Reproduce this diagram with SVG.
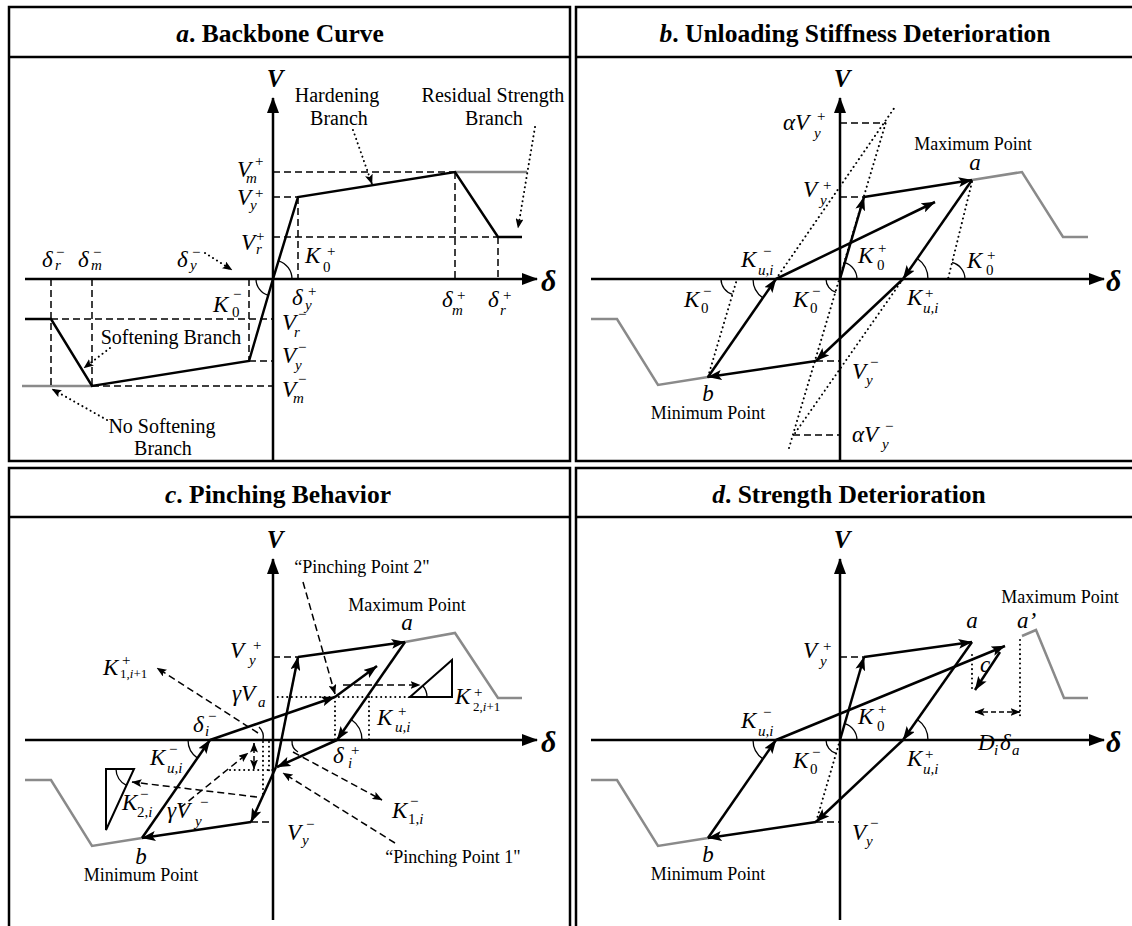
<svg xmlns="http://www.w3.org/2000/svg" width="1132" height="926" viewBox="0 0 1132 926">
<style>
.fr{fill:none;stroke:#000;stroke-width:2.5}
.ax{stroke:#000;stroke-width:2.5;fill:none;marker-end:url(#ah)}
.cv{stroke:#000;stroke-width:2.5;fill:none}
.ar{stroke:#000;stroke-width:2.5;fill:none;marker-end:url(#ar)}
.gr{stroke:#8a8a8a;stroke-width:2.5;fill:none}
.da{stroke:#000;stroke-width:1.5;stroke-dasharray:7 4;fill:none}
.dar{stroke:#000;stroke-width:1.5;stroke-dasharray:7 4;fill:none;marker-end:url(#sa)}
.dbl{stroke:#000;stroke-width:1.5;stroke-dasharray:5 3;fill:none;marker-end:url(#sa);marker-start:url(#sb)}
.do{stroke:#000;stroke-width:2;stroke-dasharray:0.1 4.6;stroke-linecap:round;fill:none}
.dor{stroke:#000;stroke-width:2;stroke-dasharray:0.1 4.6;stroke-linecap:round;fill:none;marker-end:url(#sa)}
.th{stroke:#000;stroke-width:1.3;fill:none}
.tri{stroke:#000;stroke-width:2;fill:none}
text{font-family:"Liberation Serif","Times New Roman",serif}
.ttl{font-weight:bold;font-size:25.5px;text-anchor:middle}
.vl{font-weight:bold;font-style:italic;font-size:25px;text-anchor:middle}
.dl{font-weight:bold;font-style:italic;font-size:30px}
.lb{font-size:20px;text-anchor:middle}
.lp{font-size:18px;text-anchor:middle}
.m{font-style:italic;font-size:23px}
.s{font-style:italic;font-size:15px}
.s13{font-style:italic;font-size:13px}
.p{font-size:15px}
.n{font-style:normal}
.c{text-anchor:middle}
</style>
<defs>
<marker id="ah" viewBox="0 0 16 12" refX="15" refY="6" markerWidth="16" markerHeight="12" orient="auto" markerUnits="userSpaceOnUse"><path d="M0,0 L16,6 L0,12 z"/></marker>
<marker id="ar" viewBox="0 0 14 10" refX="13.5" refY="5" markerWidth="14" markerHeight="10" orient="auto" markerUnits="userSpaceOnUse"><path d="M0,0 L14,5 L0,10 L3,5 z"/></marker>
<marker id="sa" viewBox="0 0 10 8" refX="9.5" refY="4" markerWidth="10" markerHeight="8" orient="auto" markerUnits="userSpaceOnUse"><path d="M0,0 L10,4 L0,8 L2,4 z"/></marker>
<marker id="sb" viewBox="0 0 10 8" refX="9.5" refY="4" markerWidth="10" markerHeight="8" orient="auto-start-reverse" markerUnits="userSpaceOnUse"><path d="M0,0 L10,4 L0,8 L2,4 z"/></marker>
</defs>

<!-- ================= PANEL A ================= -->
<g id="panel-a">
<rect class="fr" x="9" y="7" width="561" height="454"/>
<line class="fr" x1="9" y1="57" x2="570" y2="57"/>
<text class="ttl" x="280" y="42"><tspan font-style="italic">a</tspan>. Backbone Curve</text>
<g id="a-axes">
<line class="ax" x1="273" y1="460" x2="273" y2="98"/>
<line class="ax" x1="25" y1="279" x2="537" y2="279"/>
<text class="vl" x="275" y="87">V</text>
<text class="dl" x="541" y="291">δ</text>
</g>
<g id="a-connectors">
<polyline class="gr" points="455,172 527,172"/>
<polyline class="gr" points="22,386 92,386"/>
<polyline class="cv" points="273,279 298,197 455,172 498,237 522,237"/>
<polyline class="cv" points="273,279 249,361 92,386 51,319 25,319"/>
<path class="da" d="M273,172H455M273,197H298M273,237H498M298,197V279M455,172V279M498,237V279"/>
<path class="da" d="M51,319H273M249,361H273M92,386H273M51,279V386M92,279V386M249,279V361"/>
<line class="dor" x1="353" y1="130" x2="372" y2="184"/>
<line class="dor" x1="535" y1="127" x2="518" y2="228"/>
<line class="dor" x1="110" y1="348" x2="84" y2="368"/>
<line class="dor" x1="107" y1="420" x2="52" y2="389"/>
<line class="dor" x1="205" y1="253" x2="232" y2="270"/>
<path class="th" d="M292,279 A19,19 0 0 0 278.5,260.8"/>
<path class="th" d="M256,279 A17,17 0 0 0 268.2,295.3"/>
</g>
<g id="a-labels">
<text class="m" x="237" y="177">V</text><text class="s" x="246" y="183">m</text><text class="p" x="255" y="166">+</text>
<text class="m" x="237" y="205">V</text><text class="s" x="250" y="210">y</text><text class="p" x="255" y="198">+</text>
<text class="m" x="241" y="250">V</text><text class="s" x="256" y="254">r</text><text class="p" x="256" y="241">+</text>
<text class="m" x="305" y="263">K</text><text class="p" x="327" y="256">+</text><text class="p" x="323" y="272">0</text>
<text class="m" x="213" y="312">K</text><text class="p" x="233" y="299">−</text><text class="p" x="232" y="317">0</text>
<text class="m" x="42" y="267">δ</text><text class="p" x="56" y="257">−</text><text class="s" x="55" y="270">r</text>
<text class="m" x="78" y="267">δ</text><text class="p" x="93" y="257">−</text><text class="s" x="91" y="270">m</text>
<text class="m" x="177" y="267">δ</text><text class="p" x="192" y="257">−</text><text class="s" x="190" y="270">y</text>
<text class="m" x="292" y="305">δ</text><text class="p" x="308" y="296">+</text><text class="s" x="305" y="310">y</text>
<text class="m" x="442" y="307">δ</text><text class="p" x="457" y="300">+</text><text class="s" x="452" y="315">m</text>
<text class="m" x="488" y="307">δ</text><text class="p" x="503" y="300">+</text><text class="s" x="500" y="315">r</text>
<text class="m" x="282" y="330">V</text><text class="p" x="298" y="319">−</text><text class="s" x="294" y="337">r</text>
<text class="m" x="282" y="363">V</text><text class="p" x="298" y="352">−</text><text class="s" x="295" y="370">y</text>
<text class="m" x="282" y="397">V</text><text class="p" x="298" y="384">−</text><text class="s" x="293" y="403">m</text>
<text class="lb" x="337" y="102">Hardening</text><text class="lb" x="339" y="125">Branch</text>
<text class="lb" x="493" y="102">Residual Strength</text><text class="lb" x="494" y="125">Branch</text>
<text class="lb" x="171" y="344">Softening Branch</text>
<text class="lb" x="162" y="433">No Softening</text><text class="lb" x="163" y="455">Branch</text>
</g>
</g>

<!-- ================= PANEL B ================= -->
<g id="panel-b">
<rect class="fr" x="576" y="7" width="565" height="454"/>
<line class="fr" x1="576" y1="57" x2="1132" y2="57"/>
<text class="ttl" x="855" y="42"><tspan font-style="italic">b</tspan>. Unloading Stiffness Deterioration</text>
<g id="b-axes">
<line class="ax" x1="840" y1="460" x2="840" y2="98"/>
<line class="ax" x1="591" y1="279" x2="1104" y2="279"/>
<text class="vl" x="842" y="87">V</text>
<text class="dl" x="1106" y="291">δ</text>
</g>
<g id="b-connectors">
<polyline class="gr" points="972,180 1022,172 1063,237 1088,237"/>
<polyline class="gr" points="591,319 617,319 658,385 708,377"/>
<path class="da" d="M840,123H886M840,197H864M816,361H840M793,435H840"/>
<line class="do" x1="789" y1="448" x2="886" y2="122"/>
<line class="do" x1="776" y1="279" x2="895" y2="107"/>
<line class="do" x1="903" y1="279" x2="793" y2="436"/>
<line class="do" x1="972" y1="182" x2="948" y2="279"/>
<line class="do" x1="708" y1="377" x2="737" y2="279"/>
<line class="ar" x1="840" y1="279" x2="864" y2="197"/>
<line class="ar" x1="864" y1="197" x2="972" y2="180"/>
<line class="ar" x1="972" y1="180" x2="903" y2="279"/>
<line class="ar" x1="903" y1="279" x2="816" y2="361"/>
<line class="ar" x1="816" y1="361" x2="708" y2="377"/>
<line class="ar" x1="708" y1="377" x2="776" y2="279"/>
<line class="ar" x1="776" y1="279" x2="935" y2="202"/>
<path class="th" d="M857,279 A17,17 0 0 0 844.8,262.7"/>
<path class="th" d="M928,279 A25,25 0 0 0 917.3,258.5"/>
<path class="th" d="M965,279 A17,17 0 0 0 952.1,262.5"/>
<path class="th" d="M753,279 A23,23 0 0 0 762.9,297.9"/>
<path class="th" d="M721,279 A16,16 0 0 0 732.5,294.3"/>
<path class="th" d="M826,279 A14,14 0 0 0 836.1,292.4"/>
</g>
<g id="b-labels">
<text class="m" x="783" y="130">αV</text><text class="p" x="817" y="121">+</text><text class="s" x="814" y="138">y</text>
<text class="m" x="803" y="197">V</text><text class="p" x="823" y="190">+</text><text class="s" x="820" y="205">y</text>
<text class="lp" x="973" y="150">Maximum Point</text>
<text class="m c" x="975" y="170">a</text>
<text class="m" x="741" y="267">K</text><text class="p" x="763" y="256">−</text><text class="s" x="758" y="275">u,i</text>
<text class="m" x="684" y="307">K</text><text class="p" x="703" y="296">−</text><text class="p" x="701" y="313">0</text>
<text class="m" x="793" y="307">K</text><text class="p" x="812" y="296">−</text><text class="p" x="810" y="313">0</text>
<text class="m" x="858" y="263">K</text><text class="p" x="878" y="253">+</text><text class="p" x="877" y="270">0</text>
<text class="m" x="967" y="268">K</text><text class="p" x="987" y="260">+</text><text class="p" x="986" y="275">0</text>
<text class="m" x="907" y="305">K</text><text class="p" x="925" y="298">+</text><text class="s" x="923" y="313">u,i</text>
<text class="m" x="852" y="379">V</text><text class="p" x="870" y="367">−</text><text class="s" x="866" y="385">y</text>
<text class="m" x="852" y="442">αV</text><text class="p" x="885" y="431">−</text><text class="s" x="882" y="449">y</text>
<text class="m c" x="708" y="401">b</text>
<text class="lp" x="708" y="419">Minimum Point</text>
</g>
</g>

<!-- ================= PANEL C ================= -->
<g id="panel-c">
<rect class="fr" x="9" y="468" width="561" height="470"/>
<line class="fr" x1="9" y1="517" x2="570" y2="517"/>
<text class="ttl" x="278" y="503"><tspan font-style="italic">c</tspan>. Pinching Behavior</text>
<g id="c-axes">
<line class="ax" x1="273" y1="920" x2="273" y2="559"/>
<line class="ax" x1="25" y1="740" x2="537" y2="740"/>
<text class="vl" x="275" y="548">V</text>
<text class="dl" x="541" y="752">δ</text>
</g>
<g id="c-connectors">
<polyline class="gr" points="405,642 455,633 498,698 522,698"/>
<polyline class="gr" points="25,780 51,780 92,846 142,838"/>
<path class="da" d="M273,657H298M251,822H273"/>
<path class="do" d="M273,697H410M335,697V740M369,697V740M230,770H273M263,742V797M269,742V772"/>
<line class="ar" x1="276" y1="767" x2="298" y2="657"/>
<line class="ar" x1="298" y1="657" x2="405" y2="642"/>
<line class="ar" x1="405" y1="642" x2="337" y2="740"/>
<line class="ar" x1="337" y1="740" x2="277" y2="767"/>
<line class="ar" x1="276" y1="767" x2="251" y2="822"/>
<line class="ar" x1="251" y1="822" x2="142" y2="838"/>
<line class="ar" x1="142" y1="838" x2="210" y2="740"/>
<line class="ar" x1="210" y1="740" x2="335" y2="697"/>
<line class="ar" x1="335" y1="697" x2="377" y2="666"/>
<line class="dar" x1="303" y1="582" x2="335" y2="694"/>
<line class="dar" x1="258" y1="733" x2="157" y2="668"/>
<line class="dar" x1="343" y1="685" x2="420" y2="685"/>
<line class="dar" x1="293" y1="752" x2="382" y2="800"/>
<line class="dar" x1="395" y1="843" x2="283" y2="773"/>
<line class="dar" x1="257" y1="797" x2="132" y2="782"/>
<line class="dar" x1="180" y1="808" x2="248" y2="753"/>
<line class="dbl" x1="254" y1="769" x2="254" y2="743"/>
<polygon class="tri" points="410,697 452,697 452,660"/>
<polygon class="tri" points="106,769 134,769 106,830"/>
<path class="th" d="M427,697 A17,17 0 0 0 422.7,685.8"/>
<path class="th" d="M116,769 A18,18 0 0 0 126.5,785.4"/>
<path class="th" d="M188,740 A22,22 0 0 0 197.5,758.1"/>
<path class="th" d="M362,740 A25,25 0 0 0 351.2,719.5"/>
<path class="th" d="M259,727 A14,14 0 0 1 263,740"/>
<path class="th" d="M292,741 A12,12 0 0 0 298,752"/>
</g>
<g id="c-labels">
<text class="m" x="230" y="658">V</text><text class="p" x="253" y="650">+</text><text class="s" x="249" y="665">y</text>
<text class="m" x="103" y="675">K</text><text class="p" x="122" y="665">+</text><text class="s13" x="120" y="678"><tspan class="n">1,</tspan>i<tspan class="n">+1</tspan></text>
<text class="m" x="232" y="701">γV</text><text class="s" x="258" y="707">a</text>
<text class="m" x="193" y="732">δ</text><text class="p" x="208" y="721">−</text><text class="s" x="205" y="736">i</text>
<text class="m" x="150" y="765">K</text><text class="p" x="169" y="754">−</text><text class="s" x="167" y="773">u,i</text>
<text class="m" x="122" y="810">K</text><text class="p" x="140" y="799">−</text><text class="s" x="137" y="817"><tspan class="n">2,</tspan>i</text>
<text class="m" x="167" y="818">γV</text><text class="p" x="200" y="807">−</text><text class="s" x="195" y="826">y</text>
<text class="m c" x="141" y="864">b</text>
<text class="lp" x="141" y="881">Minimum Point</text>
<text class="lp" x="407" y="611">Maximum Point</text>
<text class="m c" x="407" y="630">a</text>
<text class="lp" x="362" y="573">“Pinching Point 2"</text>
<text class="m" x="455" y="704">K</text><text class="p" x="474" y="697">+</text><text class="s13" x="473" y="711"><tspan class="n">2,</tspan>i<tspan class="n">+1</tspan></text>
<text class="m" x="377" y="725">K</text><text class="p" x="398" y="716">+</text><text class="s" x="395" y="732">u,i</text>
<text class="m" x="333" y="763">δ</text><text class="p" x="351" y="755">+</text><text class="s" x="348" y="768">i</text>
<text class="m" x="392" y="818">K</text><text class="p" x="410" y="806">−</text><text class="s" x="408" y="824"><tspan class="n">1,</tspan>i</text>
<text class="m" x="287" y="840">V</text><text class="p" x="306" y="829">−</text><text class="s" x="302" y="845">y</text>
<text class="lp" x="453" y="863">“Pinching Point 1"</text>
</g>
</g>

<!-- ================= PANEL D ================= -->
<g id="panel-d">
<rect class="fr" x="576" y="468" width="565" height="470"/>
<line class="fr" x1="576" y1="517" x2="1132" y2="517"/>
<text class="ttl" x="849" y="503"><tspan font-style="italic">d</tspan>. Strength Deterioration</text>
<g id="d-axes">
<line class="ax" x1="840" y1="920" x2="840" y2="559"/>
<line class="ax" x1="591" y1="740" x2="1104" y2="740"/>
<text class="vl" x="842" y="548">V</text>
<text class="dl" x="1106" y="752">δ</text>
</g>
<g id="d-connectors">
<polyline class="gr" points="1022,636 1036,630 1064,698 1088,698"/>
<polyline class="gr" points="591,780 617,780 658,846 708,838"/>
<path class="da" d="M840,657H864M816,822H840"/>
<path class="do" d="M840,740L816,822M972,655V690M1020,640V718"/>
<line class="ar" x1="840" y1="740" x2="864" y2="657"/>
<line class="ar" x1="864" y1="657" x2="972" y2="642"/>
<line class="ar" x1="972" y1="642" x2="903" y2="740"/>
<line class="ar" x1="903" y1="740" x2="816" y2="822"/>
<line class="ar" x1="816" y1="822" x2="708" y2="838"/>
<line class="ar" x1="708" y1="838" x2="776" y2="740"/>
<line class="ar" x1="776" y1="740" x2="1005" y2="646"/>
<line class="ar" x1="1000" y1="652" x2="975" y2="690"/>
<line class="dbl" x1="975" y1="712" x2="1020" y2="712"/>
<path class="th" d="M857,740 A17,17 0 0 0 844.8,723.7"/>
<path class="th" d="M928,740 A25,25 0 0 0 917.3,719.5"/>
<path class="th" d="M753,740 A23,23 0 0 0 762.9,758.9"/>
<path class="th" d="M826,740 A14,14 0 0 0 836.1,753.4"/>
</g>
<g id="d-labels">
<text class="m" x="803" y="658">V</text><text class="p" x="823" y="651">+</text><text class="s" x="820" y="666">y</text>
<text class="m c" x="972" y="628">a</text>
<text class="m" x="1017" y="628">a’</text>
<text class="lp" x="1060" y="603">Maximum Point</text>
<text class="m" x="980" y="672">c</text>
<text class="m" x="978" y="750">D</text><text class="s" x="994" y="755">i</text><text class="m" x="1000" y="750">δ</text><text class="s" x="1012" y="755">a</text>
<text class="m" x="741" y="728">K</text><text class="p" x="763" y="717">−</text><text class="s" x="758" y="736">u,i</text>
<text class="m" x="858" y="724">K</text><text class="p" x="878" y="714">+</text><text class="p" x="877" y="731">0</text>
<text class="m" x="793" y="768">K</text><text class="p" x="812" y="757">−</text><text class="p" x="810" y="774">0</text>
<text class="m" x="907" y="766">K</text><text class="p" x="925" y="759">+</text><text class="s" x="923" y="774">u,i</text>
<text class="m" x="852" y="840">V</text><text class="p" x="870" y="828">−</text><text class="s" x="866" y="846">y</text>
<text class="m c" x="708" y="862">b</text>
<text class="lp" x="708" y="880">Minimum Point</text>
</g>
</g>
</svg>
